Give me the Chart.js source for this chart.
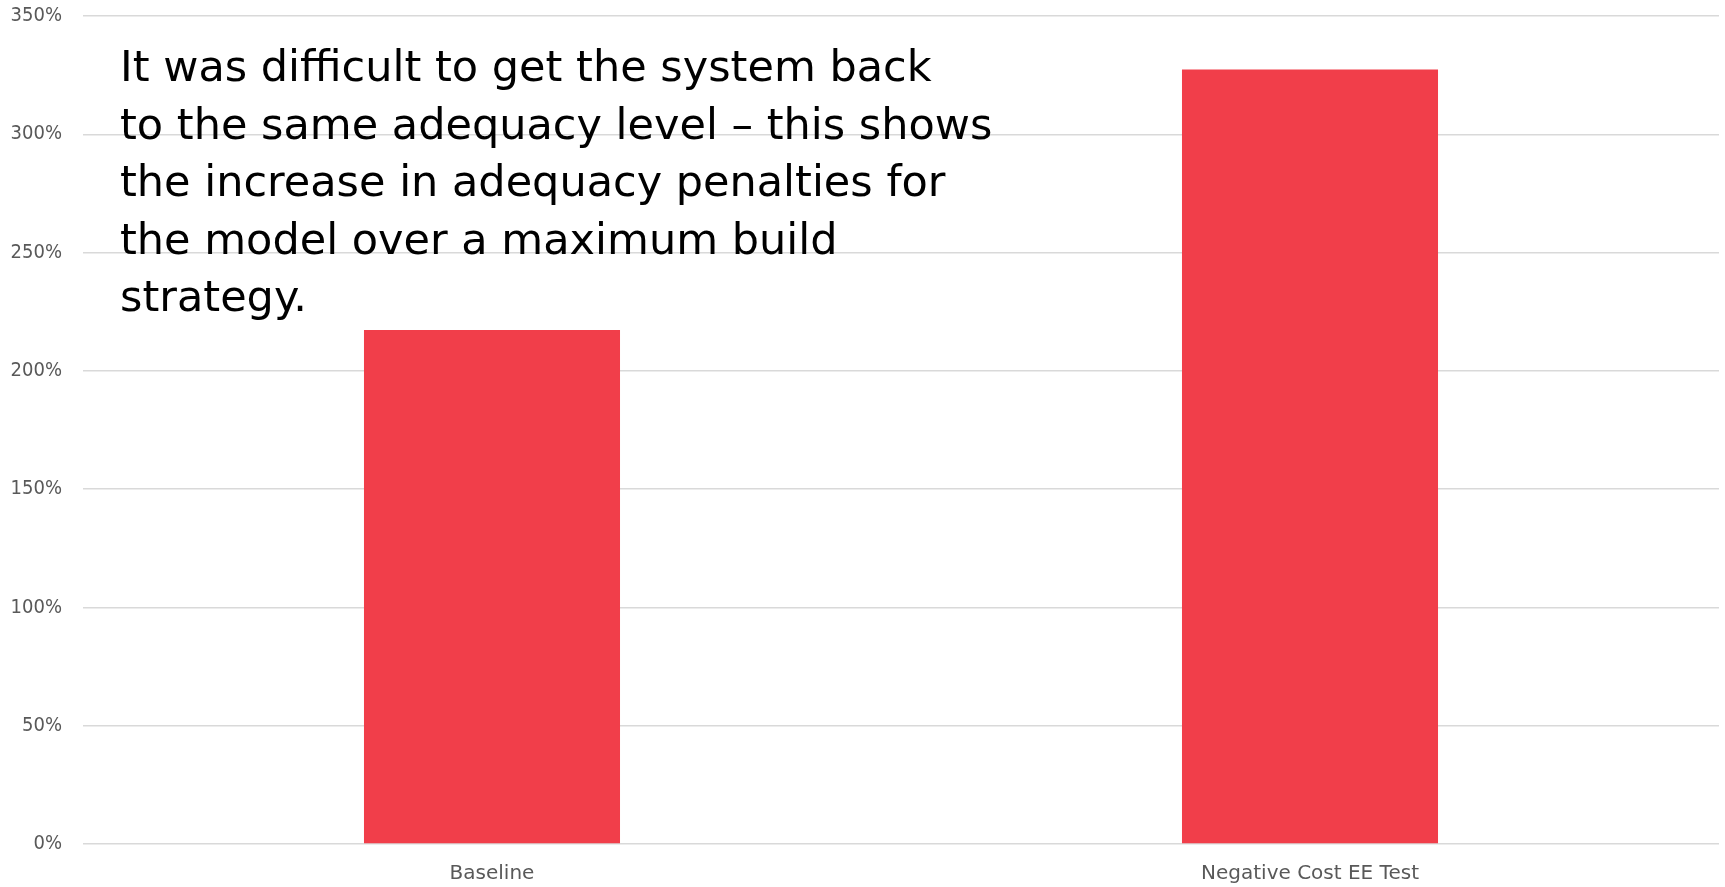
<!DOCTYPE html>
<html>
<head>
<meta charset="utf-8">
<script src="https://cdn.jsdelivr.net/npm/chart.js@4/dist/chart.umd.min.js"></script>
<style>
  html, body { margin: 0; padding: 0; background: #fff; }
  #wrap { position: relative; width: 1725px; height: 887px; }
  #nota {
    position: absolute;
    left: 120px;
    top: 38px;
    font-family: "DejaVu Sans", sans-serif;
    font-size: 43px;
    line-height: 57.5px;
    color: #000;
    white-space: nowrap;
    pointer-events: none;
  }
</style>
</head>
<body>
<div id="wrap">
  <canvas id="grafico" width="1725" height="887"></canvas>
  <div id="nota">It was difficult to get the system back<br>to the same adequacy level – this shows<br>the increase in adequacy penalties for<br>the model over a maximum build<br>strategy.</div>
</div>
<script>
// escenarios y penalizaciones de adecuación (en %)
var escenarios = ['Baseline', 'Negative Cost EE Test'];
var penalizaciones = [217.3, 327.4];
var ticksY = [0, 50, 100, 150, 200, 250, 300, 350];

var fuenteY = '"DejaVu Sans Condensed", "DejaVu Sans", sans-serif';
var fuenteX = '"DejaVu Sans", sans-serif';

new Chart(document.getElementById('grafico').getContext('2d'), {
  type: 'bar',
  data: {
    labels: escenarios,
    datasets: [{
      data: penalizaciones,
      backgroundColor: '#F13E4A',
      borderWidth: 0,
      categoryPercentage: 1,
      barPercentage: 0.313
    }]
  },
  options: {
    responsive: false,
    animation: false,
    layout: { padding: { top: 16, right: 6, left: 0, bottom: 0 } },
    plugins: {
      legend: { display: false },
      tooltip: { enabled: false }
    },
    scales: {
      x: {
        grid: { display: false, drawTicks: false },
        border: { display: false },
        ticks: {
          color: '#595959',
          padding: 18,
          font: { family: fuenteX, size: 20 }
        },
        afterFit: function(scale) { scale.height = 43; }
      },
      y: {
        min: 0,
        max: 350,
        afterBuildTicks: function(scale) {
          scale.ticks = ticksY.map(function(v) { return { value: v }; });
        },
        grid: { color: '#D9D9D9', lineWidth: 1.5, drawTicks: false },
        border: { display: false },
        ticks: {
          color: '#595959',
          padding: 21,
          font: { family: fuenteY, size: 20 },
          callback: function(v) { return v + '%'; }
        },
        afterFit: function(scale) {
          scale.width = 83;
          scale.paddingTop = 0;
          scale.paddingBottom = 0;
        }
      }
    }
  }
});
</script>
</body>
</html>
